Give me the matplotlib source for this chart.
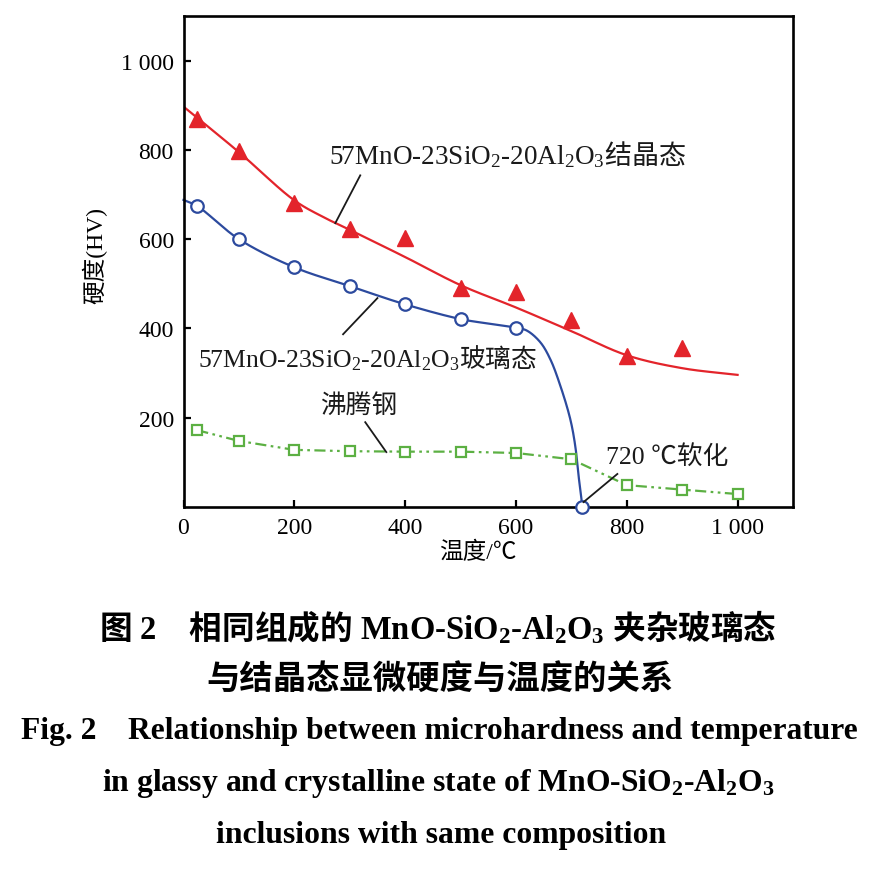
import numpy as np
import matplotlib
matplotlib.use('Agg')
import matplotlib.pyplot as plt

# ---------------- data ----------------
cryst_x = [25, 100, 200, 300, 400, 500, 600, 700, 800, 900]
cryst_hv = [869, 797, 681, 622, 602, 490, 481, 418, 338, 356]
cryst_curve_x = [0, 100, 200, 250, 300, 400, 500, 600, 700, 800, 900, 1000]
cryst_curve_hv = [897, 795, 687, 651, 621, 560, 497, 447, 394, 340, 311, 296]

glass_x = [25, 100, 200, 300, 400, 500, 600, 720]
glass_hv = [674, 600, 537, 495, 454, 421, 402, 0]
glass_curve_x = [0, 25, 100, 200, 300, 400, 500, 550, 600, 620, 644, 662, 680, 698, 707, 713, 720]
glass_curve_hv = [688, 674, 600, 537, 495, 454, 421, 411, 402, 395, 369, 331, 272, 197, 137, 70, 0]

steel_x = [25, 100, 200, 300, 400, 500, 600, 700, 800, 900, 1000]
steel_hv = [172, 148, 128, 125, 124, 124, 121, 107, 49, 39, 29]

xticks = [0, 200, 400, 600, 800, 1000]
xticklabels = ['0', '200', '400', '600', '800', '1 000']
yticks = [200, 400, 600, 800, 1000]
yticklabels = ['200', '400', '600', '800', '1 000']

label_cryst = r'57MnO-23SiO$_2$-20Al$_2$O$_3\mathrm{结晶态}$'
label_glass = r'57MnO-23SiO$_2$-20Al$_2$O$_3\mathrm{玻璃态}$'
label_steel = '沸腾钢'
label_soft = '720 ℃软化'
xlabel = '温度/℃'
ylabel = '硬度(HV)'

cap1 = r'$\mathbf{图}$ 2    $\mathbf{相同组成的}$ MnO-SiO$_2$-Al$_2$O$_3$ $\mathbf{夹杂玻璃态}$'
cap2 = '与结晶态显微硬度与温度的关系'
cap3 = 'Fig. 2    Relationship between microhardness and temperature'
cap4 = r'in glassy and crystalline state of MnO-SiO$_2$-Al$_2$O$_3$'
cap5 = 'inclusions with same composition'

# ---------------- style ----------------
plt.rcParams['mathtext.fontset'] = 'custom'
plt.rcParams['mathtext.rm'] = 'Noto Sans CJK SC'
plt.rcParams['mathtext.bf'] = 'Noto Sans CJK SC:bold'
plt.rcParams['mathtext.default'] = 'regular'
SERIF = ['Liberation Serif', 'Noto Sans CJK SC', 'DejaVu Sans']
CJK = ['Noto Sans CJK SC', 'DejaVu Sans']
plt.rcParams['font.family'] = SERIF

RED = '#e3242b'
BLUE = '#2c4a9e'
GREEN = '#5cb043'
INK = '#1a1a1a'


def smooth(xs, ys, n=40, sx=0.5535, sy=0.4467):
    """Centripetal Catmull-Rom curve through the given knots (for drawing)."""
    P = np.column_stack([np.asarray(xs, float) * sx, np.asarray(ys, float) * sy])
    P = np.vstack([2 * P[0] - P[1], P, 2 * P[-1] - P[-2]])
    out = []
    for i in range(1, len(P) - 2):
        p0, p1, p2, p3 = P[i - 1], P[i], P[i + 1], P[i + 2]
        t0 = 0.0
        t1 = t0 + np.linalg.norm(p1 - p0) ** 0.5
        t2 = t1 + np.linalg.norm(p2 - p1) ** 0.5
        t3 = t2 + np.linalg.norm(p3 - p2) ** 0.5
        t = np.linspace(t1, t2, n)[:, None]
        A1 = (t1 - t) / (t1 - t0) * p0 + (t - t0) / (t1 - t0) * p1
        A2 = (t2 - t) / (t2 - t1) * p1 + (t - t1) / (t2 - t1) * p2
        A3 = (t3 - t) / (t3 - t2) * p2 + (t - t2) / (t3 - t2) * p3
        B1 = (t2 - t) / (t2 - t0) * A1 + (t - t0) / (t2 - t0) * A2
        B2 = (t3 - t) / (t3 - t1) * A2 + (t - t1) / (t3 - t1) * A3
        C = (t2 - t) / (t2 - t1) * B1 + (t - t1) / (t2 - t1) * B2
        out.append(C)
    C = np.vstack(out)
    return C[:, 0] / sx, C[:, 1] / sy


fig = plt.figure(figsize=(8.76, 8.70), dpi=100)
ax = fig.add_axes([183.5 / 876, 1 - 508 / 870, (793 - 183.5) / 876, (508 - 17) / 870])
ax.set_xlim(0, 1100)
ax.set_ylim(0, 1100)

# curves
cx, cy = smooth(cryst_curve_x, cryst_curve_hv)
ax.plot(cx, cy, color=RED, lw=1.6, zorder=2)
gx, gy = smooth(glass_curve_x, glass_curve_hv)
ax.plot(gx, gy, color=BLUE, lw=1.6, zorder=2, clip_on=False)
ax.plot(steel_x, steel_hv, color=GREEN, lw=1.6, linestyle=(0, (5, 2, 1.2, 2, 1.2, 2)), zorder=2)

# markers
ax.plot(cryst_x, cryst_hv, linestyle='none', marker='^', ms=12, color=RED, zorder=3)
ax.plot(glass_x, glass_hv, linestyle='none', marker='o', ms=9, mfc='white', mec=BLUE,
        mew=1.6, zorder=4, clip_on=False)
ax.plot(steel_x, steel_hv, linestyle='none', marker='s', ms=7.8, mfc='white', mec=GREEN,
        mew=1.6, zorder=3)

# leader lines
lk = dict(color=INK, lw=1.3, zorder=5, clip_on=False)
ax.plot([319, 274], [743, 636], **lk)
ax.plot([350, 288], [468, 387], **lk)
ax.plot([328, 366], [190, 123], **lk)
ax.plot([783, 722], [74, 11], **lk)

FS = 17
ax.text(263, 770, label_cryst, fontsize=19.5, ha='left', va='baseline', color=INK)
ax.text(27, 316, label_glass, fontsize=18.5, ha='left', va='baseline', color=INK)
ax.text(247, 230, label_steel, fontsize=18.5, ha='left', va='center', family=CJK, color=INK)
ax.text(762, 114, label_soft, fontsize=18.5, ha='left', va='center', color=INK)

ax.text(532, -101, xlabel, fontsize=FS, ha='center', va='center', clip_on=False)
ax.text(-160, 566, ylabel, fontsize=FS, ha='center', va='center', rotation=90, clip_on=False)

# axes styling
for s in ax.spines.values():
    s.set_linewidth(1.9)
ax.set_xticks(xticks)
ax.set_xticklabels(xticklabels)
ax.set_yticks(yticks)
ax.set_yticklabels(yticklabels)
ax.tick_params(direction='in', length=5, width=1.6, labelsize=FS, pad=7,
               top=False, right=False)
for lab in ax.get_xticklabels() + ax.get_yticklabels():
    lab.set_family(SERIF)

# caption
fig.text(0.5, 1 - 627 / 870, cap1, fontsize=23.5, ha='center', va='center',
         fontweight='bold', family=SERIF)
fig.text(0.502, 1 - 679 / 870, cap2, fontsize=24, ha='center', va='center',
         fontweight='bold', family=CJK)
fig.text(0.502, 1 - 731 / 870, cap3, fontsize=22.7, ha='center', va='center',
         fontweight='bold', family=SERIF)
fig.text(0.5, 1 - 784 / 870, cap4, fontsize=22.8, ha='center', va='center',
         fontweight='bold', family=SERIF)
fig.text(0.503, 1 - 836 / 870, cap5, fontsize=22.8, ha='center', va='center',
         fontweight='bold', family=SERIF)

fig.savefig('out.png', dpi=100, facecolor='white')
